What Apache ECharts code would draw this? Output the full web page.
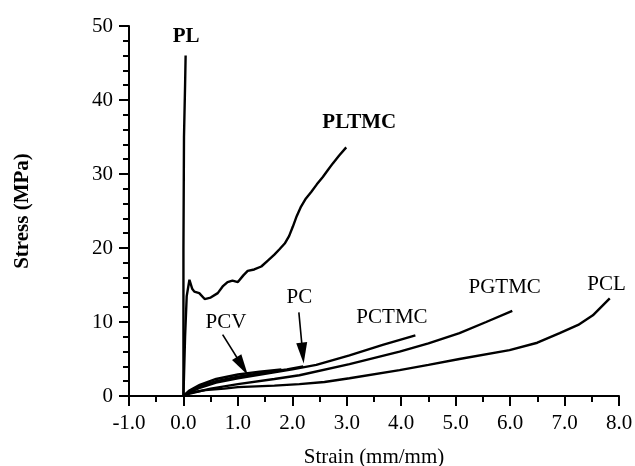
<!DOCTYPE html>
<html>
<head>
<meta charset="utf-8">
<script src="https://cdn.jsdelivr.net/npm/echarts@6/dist/echarts.min.js"></script>
<style>
html,body{margin:0;padding:0;background:#fff;}
#c{width:635px;height:466px;}
</style>
</head>
<body>
<div id="c"></div>
<script>
// ---- data (strain mm/mm, stress MPa) ----
const xTickLabels = ['-1.0','0.0','1.0','2.0','3.0','4.0','5.0','6.0','7.0','8.0'];
const yTickLabels = ['0','10','20','30','40','50'];

const PL = [[0,0],[0,20],[0.01,35],[0.03,42],[0.04,46]];
const PLTMC = [[0,0],[0.03,8],[0.06,13.5],[0.11,15.7],[0.16,14.5],[0.2,14.1],[0.29,13.9],[0.39,13.1],[0.5,13.3],[0.63,13.9],[0.72,14.8],[0.81,15.4],[0.9,15.6],[1.0,15.4],[1.1,16.3],[1.18,16.9],[1.3,17.1],[1.43,17.5],[1.55,18.3],[1.67,19.1],[1.76,19.8],[1.86,20.6],[1.94,21.6],[2.01,22.9],[2.08,24.3],[2.16,25.6],[2.25,26.7],[2.35,27.6],[2.45,28.6],[2.56,29.6],[2.65,30.5],[2.74,31.4],[2.86,32.5],[2.99,33.6]];
const PCV = [[0,0],[0.1,0.7],[0.3,1.5],[0.6,2.3],[1.0,2.9],[1.4,3.3],[1.8,3.6]];
const PC = [[0,0],[0.1,0.6],[0.3,1.3],[0.6,2.0],[1.0,2.6],[1.5,3.2],[1.9,3.6],[2.2,4.0]];
const PCTMC = [[0,0],[0.1,0.5],[0.3,1.1],[0.6,1.8],[1.0,2.4],[1.5,3.0],[2.0,3.6],[2.44,4.2],[3.05,5.5],[3.66,6.9],[4.26,8.2]];
const PGTMC = [[0,0],[0.1,0.3],[0.5,1.0],[1.0,1.6],[1.67,2.3],[2.13,2.8],[3.05,4.3],[3.97,6.0],[4.5,7.1],[5.07,8.5],[5.56,10.0],[6.04,11.5]];
const PCL = [[0,0],[0.1,0.4],[0.4,0.8],[0.75,1.0],[1.0,1.2],[1.67,1.4],[2.13,1.6],[2.59,1.9],[3.05,2.4],[3.97,3.5],[4.5,4.2],[5.07,5.0],[5.99,6.2],[6.5,7.2],[6.91,8.5],[7.25,9.6],[7.52,10.9],[7.83,13.2]];

const seriesNames = ['PL','PLTMC','PCV','PC','PCTMC','PGTMC','PCL'];
const seriesData = [PL, PLTMC, PCV, PC, PCTMC, PGTMC, PCL];
// label anchors (data units) and weight
const labelAnchors = [[0.05,48.6],[3.23,37.0],[0.78,10.0],[2.13,13.3],[3.83,10.6],[5.9,14.6],[7.77,15.1]];
const labelBold = [true,true,false,false,false,false,false];
// arrows: [from, to]
const arrows = [[[0.72,8.3],[1.08,4.05]],[[2.12,11.3],[2.19,5.8]]];

const FONT = '"Liberation Serif", "DejaVu Serif", serif';
const INK = '#000';

const series = seriesData.map((d, i) => ({
  name: seriesNames[i],
  type: 'line',
  data: d,
  showSymbol: false,
  symbol: 'none',
  smooth: false,
  lineStyle: {color: INK, width: 2.4},
  z: 2
}));

series.push({
  type: 'scatter',
  data: labelAnchors.map((p, i) => ({value: p, name: seriesNames[i],
    label: {color: INK, fontWeight: labelBold[i] ? 'bold' : 'normal'}})),
  symbolSize: 1,
  itemStyle: {color: 'rgba(0,0,0,0)'},
  silent: true,
  label: {
    show: true, position: 'inside', formatter: p => p.name,
    color: INK, fontFamily: FONT, fontSize: 21, opacity: 1
  },
  z: 5
});

series.push({
  type: 'line',
  data: [],
  markLine: {
    silent: true,
    symbol: ['none', 'triangle'],
    symbolSize: [11, 21],
    lineStyle: {color: INK, width: 1.6, type: 'solid', opacity: 1},
    itemStyle: {color: INK},
    label: {show: false},
    data: arrows.map(a => [{coord: a[0]}, {coord: a[1]}])
  }
});

const chart = echarts.init(document.getElementById('c'), null, {renderer: 'canvas'});
chart.setOption({
  animation: false,
  backgroundColor: '#fff',
  grid: {left: 129, right: 16, top: 26, bottom: 70, containLabel: false, outerBoundsMode: 'none'},
  xAxis: {
    type: 'value', min: -1, max: 8, interval: 1,
    name: 'Strain (mm/mm)', nameLocation: 'middle', nameGap: 51,
    nameTextStyle: {fontFamily: FONT, fontSize: 21, color: INK},
    axisLine: {onZero: false, lineStyle: {color: INK, width: 2}},
    axisTick: {show: true, length: 10, lineStyle: {color: INK, width: 2}},
    minorTick: {show: true, splitNumber: 2, length: 6, lineStyle: {color: INK, width: 2}},
    splitLine: {show: false},
    axisLabel: {fontFamily: FONT, fontSize: 21, color: INK, margin: 17,
      formatter: v => xTickLabels[Math.round(v) + 1]}
  },
  yAxis: {
    type: 'value', min: 0, max: 50, interval: 10,
    name: 'Stress (MPa)', nameLocation: 'middle', nameGap: 96,
    nameTextStyle: {fontFamily: FONT, fontSize: 21, fontWeight: 'bold', color: INK},
    axisLine: {onZero: false, lineStyle: {color: INK, width: 2}},
    axisTick: {show: true, length: 10, lineStyle: {color: INK, width: 2}},
    minorTick: {show: true, splitNumber: 5, length: 6, lineStyle: {color: INK, width: 2}},
    splitLine: {show: false},
    axisLabel: {fontFamily: FONT, fontSize: 21, color: INK, margin: 16,
      formatter: v => yTickLabels[Math.round(v / 10)]}
  },
  series: series
});
</script>
</body>
</html>
